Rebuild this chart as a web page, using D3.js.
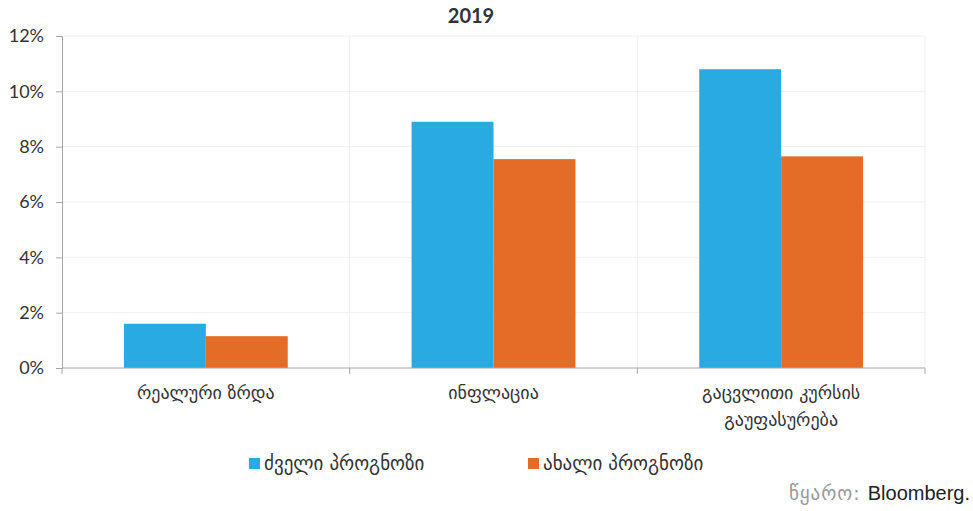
<!DOCTYPE html>
<html>
<head>
<meta charset="utf-8">
<script src="https://cdn.jsdelivr.net/npm/d3@7"></script>
<style>
  body { margin: 0; background: #fff; }
  text { fill: #333; }
</style>
</head>
<body>
<div id="chart"></div>
<script>
// data
var categories = ["რეალური ზრდა", "ინფლაცია", "გაცვლითი კურსის|გაუფასურება"];
var seriesNames = ["ძველი პროგნოზი", "ახალი პროგნოზი"];
var oldForecast = [1.6, 8.9, 10.8];
var newForecast = [1.15, 7.55, 7.65];
var yTicks = [0, 2, 4, 6, 8, 10, 12];
var colors = ["#29abe2", "#e46c26"];

var svgWidth = 973;
var svgHeight = 511;
var margin = { top: 36, right: 48, bottom: 143, left: 62 };
var width = svgWidth - margin.left - margin.right;
var height = svgHeight - margin.top - margin.bottom;

var svg = d3.select("#chart").append("svg")
  .attr("width", svgWidth)
  .attr("height", svgHeight);

var chartGroup = svg.append("g")
  .attr("transform", `translate(${margin.left}, ${margin.top})`);

var x0 = d3.scaleBand().domain(d3.range(categories.length)).range([0, width]);
var x1 = d3.scaleBand().domain([0, 1]).range([0, x0.bandwidth()])
  .paddingInner(0).paddingOuter(0.756);
var y = d3.scaleLinear().domain([0, 12]).range([height, 0]);

// grid lines
chartGroup.append("g").selectAll("line.h")
  .data(yTicks.slice(1))
  .enter().append("line")
  .attr("x1", 0).attr("x2", width)
  .attr("y1", d => y(d)).attr("y2", d => y(d))
  .attr("stroke", "#f0f0f0").attr("stroke-width", 1);

chartGroup.append("g").selectAll("line.v")
  .data(d3.range(1, categories.length + 1))
  .enter().append("line")
  .attr("x1", d => d * x0.step()).attr("x2", d => d * x0.step())
  .attr("y1", 0).attr("y2", height)
  .attr("stroke", "#f0f0f0").attr("stroke-width", 1);

// bars
var data = categories.map((c, i) => [oldForecast[i], newForecast[i]]);
var groups = chartGroup.selectAll("g.cat")
  .data(data)
  .enter().append("g")
  .attr("transform", (d, i) => `translate(${x0(i)},0)`);

groups.selectAll("rect")
  .data(d => d)
  .enter().append("rect")
  .attr("x", (d, j) => x1(j))
  .attr("width", x1.bandwidth())
  .attr("y", d => y(d))
  .attr("height", d => height - y(d))
  .attr("fill", (d, j) => colors[j]);

// left axis
var leftAxis = d3.axisLeft(y).tickValues(yTicks).tickFormat(d => d + "%")
  .tickSize(6).tickPadding(12);
var yAxis = chartGroup.append("g").call(leftAxis);
yAxis.select(".domain").attr("stroke", "#a6a6a6");
yAxis.selectAll(".tick line").attr("stroke", "#a6a6a6");
yAxis.selectAll(".tick text")
  .style("font-family", "'Century Gothic', Lato, 'DejaVu Sans', sans-serif")
  .style("font-size", "18px").attr("fill", "#333");

// bottom axis
var xAxis = chartGroup.append("g").attr("transform", `translate(0, ${height})`);
xAxis.append("line").attr("x1", 0).attr("x2", width)
  .attr("stroke", "#a6a6a6");
xAxis.selectAll("line.tk")
  .data(d3.range(0, categories.length + 1))
  .enter().append("line")
  .attr("x1", d => d * x0.step()).attr("x2", d => d * x0.step())
  .attr("y1", 0).attr("y2", 6)
  .attr("stroke", "#a6a6a6");

var catLabels = xAxis.selectAll("text.cat")
  .data(categories)
  .enter().append("text")
  .attr("x", (d, i) => x0(i) + x0.bandwidth() / 2)
  .attr("y", 31)
  .attr("text-anchor", "middle")
  .style("font-family", "'DejaVu Sans', sans-serif")
  .style("font-size", "18px");
catLabels.each(function (d) {
  var parts = d.split("|");
  var t = d3.select(this);
  parts.forEach((p, k) => {
    t.append("tspan").attr("x", t.attr("x")).attr("dy", k === 0 ? 0 : 27).text(p);
  });
});

// title
svg.append("text")
  .attr("x", 471).attr("y", 23)
  .attr("text-anchor", "middle")
  .style("font-family", "'Century Gothic', Lato, 'DejaVu Sans', sans-serif")
  .style("font-weight", "bold").style("font-size", "20px")
  .text("2019");

// legend
var legendX = [249, 528];
var legend = svg.selectAll("g.legend")
  .data(seriesNames)
  .enter().append("g")
  .attr("transform", (d, i) => `translate(${legendX[i]}, 458)`);
legend.append("rect").attr("width", 11).attr("height", 11)
  .attr("fill", (d, i) => colors[i]);
legend.append("text").attr("x", 15).attr("y", 12)
  .style("font-family", "'DejaVu Sans', sans-serif")
  .style("font-size", "19px")
  .text(d => d);

// source
var src = svg.append("text")
  .attr("x", 970).attr("y", 500)
  .attr("text-anchor", "end");
src.append("tspan").text("წყარო: ")
  .style("font-family", "'DejaVu Sans', sans-serif")
  .style("font-size", "19px").style("letter-spacing", "1px").attr("fill", "#999");
src.append("tspan").text("Bloomberg.")
  .style("font-family", "'Liberation Sans', Arial, sans-serif")
  .style("font-size", "20px").attr("fill", "#222");
</script>
</body>
</html>
